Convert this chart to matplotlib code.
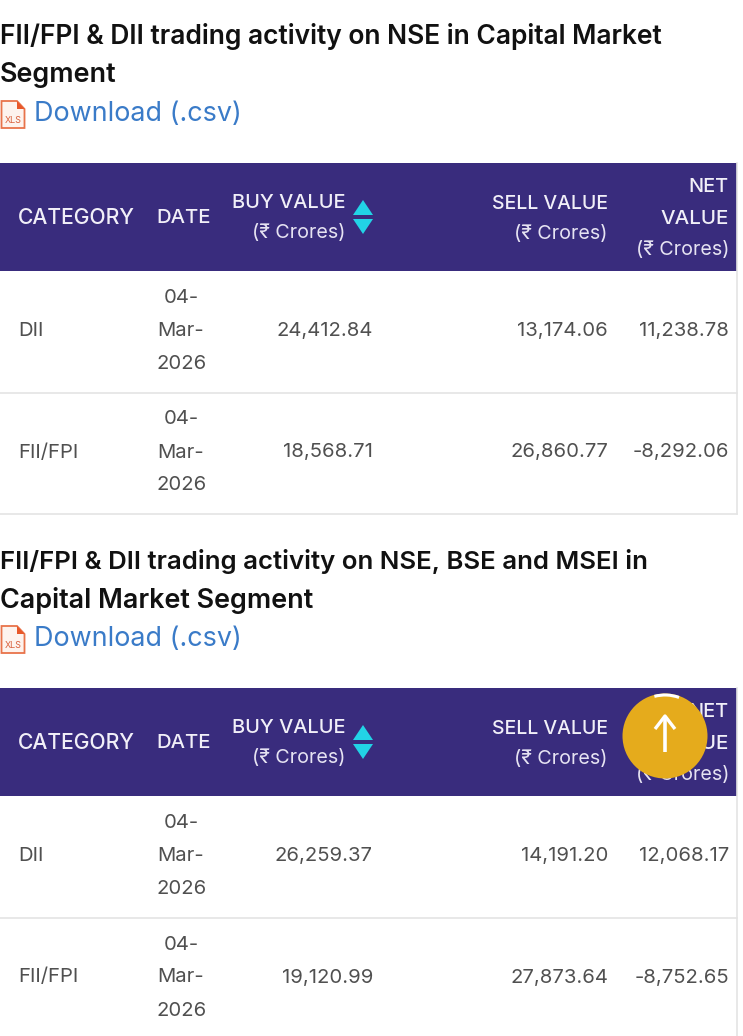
import matplotlib
matplotlib.use('Agg')
import matplotlib.pyplot as plt
from matplotlib.patches import Rectangle, Polygon, Circle, Arc

plt.rcParams['font.family'] = ['Inter', 'Noto Sans', 'DejaVu Sans']

# Table contents
title_1 = ['FII/FPI & DII trading activity on NSE in Capital Market', 'Segment']
title_2 = ['FII/FPI & DII trading activity on NSE, BSE and MSEI in', 'Capital Market Segment']
link_text = 'Download (.csv)'
categories = ['DII', 'FII/FPI']
date_parts = ['04-', 'Mar-', '2026']
buy_1 = ['24,412.84', '18,568.71']
sell_1 = ['13,174.06', '26,860.77']
net_1 = ['11,238.78', '-8,292.06']
buy_2 = ['26,259.37', '19,120.99']
sell_2 = ['14,191.20', '27,873.64']
net_2 = ['12,068.17', '-8,752.65']

PURPLE = '#392c7d'
TEXT = '#505050'
LINK = '#3a7bc8'
CYAN = '#22d3e6'
LINE = '#e4e4e4'

fig = plt.figure(figsize=(7.43, 10.36), dpi=100)
ax = fig.add_axes([0, 0, 1, 1])
ax.set_xlim(0, 743)
ax.set_ylim(1036, 0)
ax.axis('off')


def draw_link(y):
    # little xls file icon, then the link text
    ax.add_patch(Polygon([(1.5, y - 13), (17, y - 13), (24.5, y - 5), (24.5, y + 14), (1.5, y + 14)],
                         closed=True, fc='#fdf3ee', ec='#e8734a', lw=1.3))
    ax.add_patch(Polygon([(17, y - 13), (24.5, y - 5), (17, y - 5)], closed=True, fc='#e8582a', ec='none'))
    ax.text(13, y + 6.5, 'XLS', color='#d9603c', fontsize=6.5, ha='center', va='center')
    ax.text(34, y, link_text, color=LINK, fontsize=19.4, ha='left', va='center')


def draw_table(top, title, title_sizes, buy, sell, net):
    ax.text(0, top - 126, title[0], color='#111111', fontsize=title_sizes[0], fontweight='semibold', ha='left', va='center')
    ax.text(0, top - 88, title[1], color='#111111', fontsize=title_sizes[1], fontweight='semibold', ha='left', va='center')
    draw_link(top - 49)

    # header band
    ax.add_patch(Rectangle((0, top), 737, 108, fc=PURPLE, ec='none'))
    head = dict(color='#f1eff8', fontweight='medium', va='center')
    sub = dict(color='#e6e3f2', fontsize=14.2, va='center')
    ax.text(18, top + 55, 'CATEGORY', ha='left', fontsize=15.2, **head)
    ax.text(156.5, top + 55, 'DATE', ha='left', fontsize=14.6, **head)
    ax.text(345, top + 40, 'BUY VALUE', ha='right', fontsize=14.4, **head)
    ax.text(345, top + 70, '(₹ Crores)', ha='right', **sub)
    ax.add_patch(Polygon([(353, top + 52), (363, top + 37), (373, top + 52)], closed=True, fc=CYAN, ec='none'))
    ax.add_patch(Polygon([(353, top + 56), (363, top + 71), (373, top + 56)], closed=True, fc=CYAN, ec='none'))
    ax.text(608, top + 41, 'SELL VALUE', ha='right', fontsize=14, **head)
    ax.text(608, top + 71, '(₹ Crores)', ha='right', **sub)
    ax.text(729, top + 24, 'NET', ha='right', fontsize=14.4, **head)
    ax.text(729, top + 56, 'VALUE', ha='right', fontsize=14.8, **head)
    ax.text(729, top + 87, '(₹ Crores)', ha='right', **sub)

    # body rows
    for i, cat in enumerate(categories):
        row_top = top + 108 + i * 121.5
        mid = row_top + 60
        ax.text(18, mid, cat, color=TEXT, fontsize=14.6, ha='left', va='center')
        for j, part in enumerate(date_parts):
            ax.text(164 if j == 0 else 157, mid - 33 + j * 33, part, color=TEXT, fontsize=14.6, ha='left', va='center')
        ax.text(373, mid, buy[i], color=TEXT, fontsize=14.6, ha='right', va='center')
        ax.text(608, mid, sell[i], color=TEXT, fontsize=14.6, ha='right', va='center')
        ax.text(729, mid, net[i], color=TEXT, fontsize=14.6, ha='right', va='center')
        ax.plot([0, 737], [row_top + 121.5, row_top + 121.5], color=LINE, lw=1.2)
    ax.plot([737, 737], [top, min(top + 351, 1036)], color=LINE, lw=1.2)


draw_table(163, title_1, [19.0, 19.4], buy_1, sell_1, net_1)
draw_table(688, title_2, [18.55, 19.4], buy_2, sell_2, net_2)

# floating back-to-top button sits over the second header
ax.add_patch(Circle((665, 736), 42.5, fc='#e5ab1c', ec='none', zorder=5))
ax.add_patch(Arc((665, 736), 82, 82, theta1=255, theta2=290, color='white', lw=2.2, zorder=6))
ax.plot([665, 665], [716, 752], color='white', lw=2.6, zorder=6, solid_capstyle='butt')
ax.plot([655, 665, 675], [729, 716, 729], color='white', lw=2.4, zorder=6, solid_capstyle='butt')

fig.savefig('out.png', dpi=100)
